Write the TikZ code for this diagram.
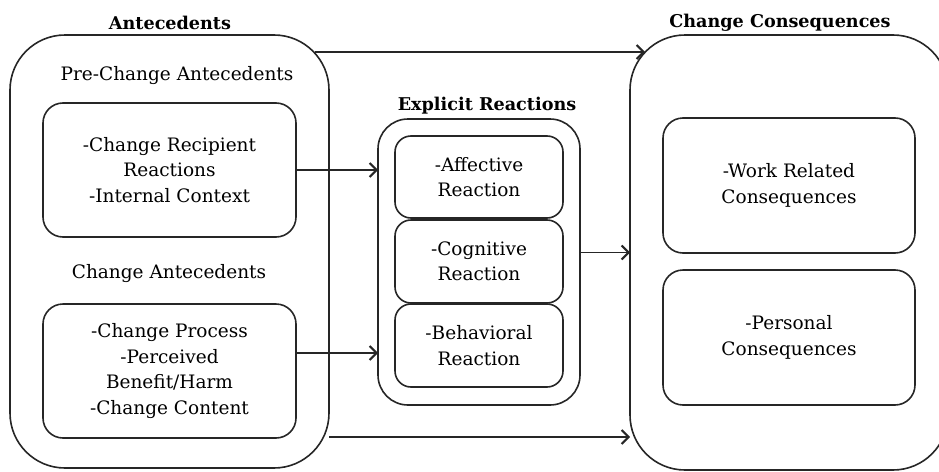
\documentclass[tikz,border=0pt]{standalone}
\usepackage{fontspec}
\setmainfont{DejaVu Serif}
\usetikzlibrary{arrows.meta,calc}
\begin{document}
\begin{tikzpicture}[x=1pt,y=-1pt,
  line/.style={draw=black!85, line width=1.6pt},
  box/.style={line, rounded corners=#1, inner sep=0pt, outer sep=0pt, align=center,
    font=\fontsize{18.5}{25.5}\selectfont, text=black},
  box/.default=20pt,
  lbl/.style={inner sep=0pt, font=\fontsize{18.5}{25.5}\selectfont, text=black},
  ttl/.style={inner sep=0pt, font=\fontsize{17.6}{22}\selectfont\bfseries, text=black},
  arr/.style={line, -{Straight Barb[length=7pt,width=14pt,line width=2pt]}}
]
\useasboundingbox (0,0) rectangle (939,471);
\clip (0,0) rectangle (939,471);
% outer containers
\node[box=55pt, minimum width=319pt, minimum height=433pt] (ante) at (169.5,251.5) {};
\node[box=30pt, minimum width=202pt, minimum height=286pt] (expl) at (479,262) {};
\node[box=55pt, minimum width=318pt, minimum height=435pt] (cons) at (789,252.5) {};
% titles
\node[ttl] (tA) at (170,23) {Antecedents};
\node[ttl] (tE) at (487,106) {Explicit Reactions};
\node[ttl] (tC) at (780,23) {Change Consequences};
% left labels
\node[lbl] (lPre) at (177,76) {Pre-Change Antecedents};
\node[lbl] (lCh) at (169,274) {Change Antecedents};
% left inner boxes
\node[box, minimum width=253pt, minimum height=134pt] (b1) at (169.5,170)
  {\raisebox{-2pt}{\parbox{240pt}{\centering -Change Recipient\\Reactions\\-Internal Context}}};
\node[box, minimum width=253pt, minimum height=134pt] (b2) at (169.5,371)
  {-Change Process\\-Perceived\\Benefit/Harm\\-Change Content};
% explicit inner boxes
\node[box=16pt, minimum width=168pt, minimum height=82pt] (e1) at (479,177) {-Affective\\Reaction};
\node[box=16pt, minimum width=168pt, minimum height=83pt] (e2) at (479,261.5) {-Cognitive\\Reaction};
\node[box=16pt, minimum width=168pt, minimum height=83pt] (e3) at (479,345.5) {-Behavioral\\Reaction};
% consequence inner boxes
\node[box, minimum width=252pt, minimum height=135pt] (c1) at (789,185.5) {-Work Related\\Consequences};
\node[box, minimum width=252pt, minimum height=135pt] (c2) at (789,337.5) {-Personal\\Consequences};
% connectors
\coordinate (ts) at (315,52);
\coordinate (te) at (645,52);
\coordinate (yb) at (0,437);
\draw[arr] (ts) -- (te);
\draw[arr] (b1.east) -- (b1.east -| expl.west);
\draw[arr] ($(b2.east)+(0,-18)$) -- ($(b2.east -| expl.west)+(0,-18)$);
\draw[arr] (expl.east |- cons.center) -- (cons.west |- cons.center);
\draw[arr] (ante.east |- yb) -- (cons.west |- yb);
\end{tikzpicture}
\end{document}
